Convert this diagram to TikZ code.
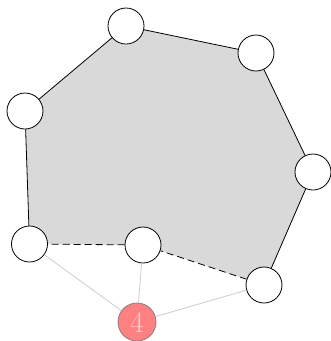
\documentclass[tikz,border=0pt]{standalone}
\usetikzlibrary{backgrounds}
\tikzset{
	vertex/.style={circle, draw, fill=white, line width=0.8pt, minimum size=36pt, inner sep=0pt},
	sink/.style={circle, draw=gray, fill=red!50, line width=0.8pt, minimum size=38pt, inner sep=0pt, text=white, text opacity=0.6, font=\fontsize{30}{30}\selectfont},
	hull/.style={line width=0.8pt},
	hidden/.style={line width=0.8pt, dash pattern=on 7pt off 4pt},
	spoke/.style={gray!40, line width=0.8pt}
}
\begin{document}
\begin{tikzpicture}[x=1pt, y=-1pt]
	\useasboundingbox (0, 0) rectangle (331, 341);
	\node[vertex] (a) at (126, 26) {};
	\node[vertex] (b) at (256, 53) {};
	\node[vertex] (c) at (313, 172) {};
	\node[vertex] (d) at (264, 285) {};
	\node[vertex] (e) at (143, 245) {};
	\node[vertex] (f) at (29.5, 244) {};
	\node[vertex] (g) at (25, 111) {};
	\node[sink] (s) at (137, 322) {4};
	\begin{pgfonlayer}{background}
		\fill[gray!30] (a.center) -- (b.center) -- (c.center) -- (d.center) -- (e.center) -- (f.center) -- (g.center) -- cycle;
	\end{pgfonlayer}
	\draw[hull] (f) -- (g) -- (a) -- (b) -- (c) -- (d);
	\draw[hidden] (d) -- (e) -- (f);
	\draw[spoke] (s) -- (f);
	\draw[spoke] (s) -- (e);
	\draw[spoke] (s) -- (d);
\end{tikzpicture}
\end{document}
